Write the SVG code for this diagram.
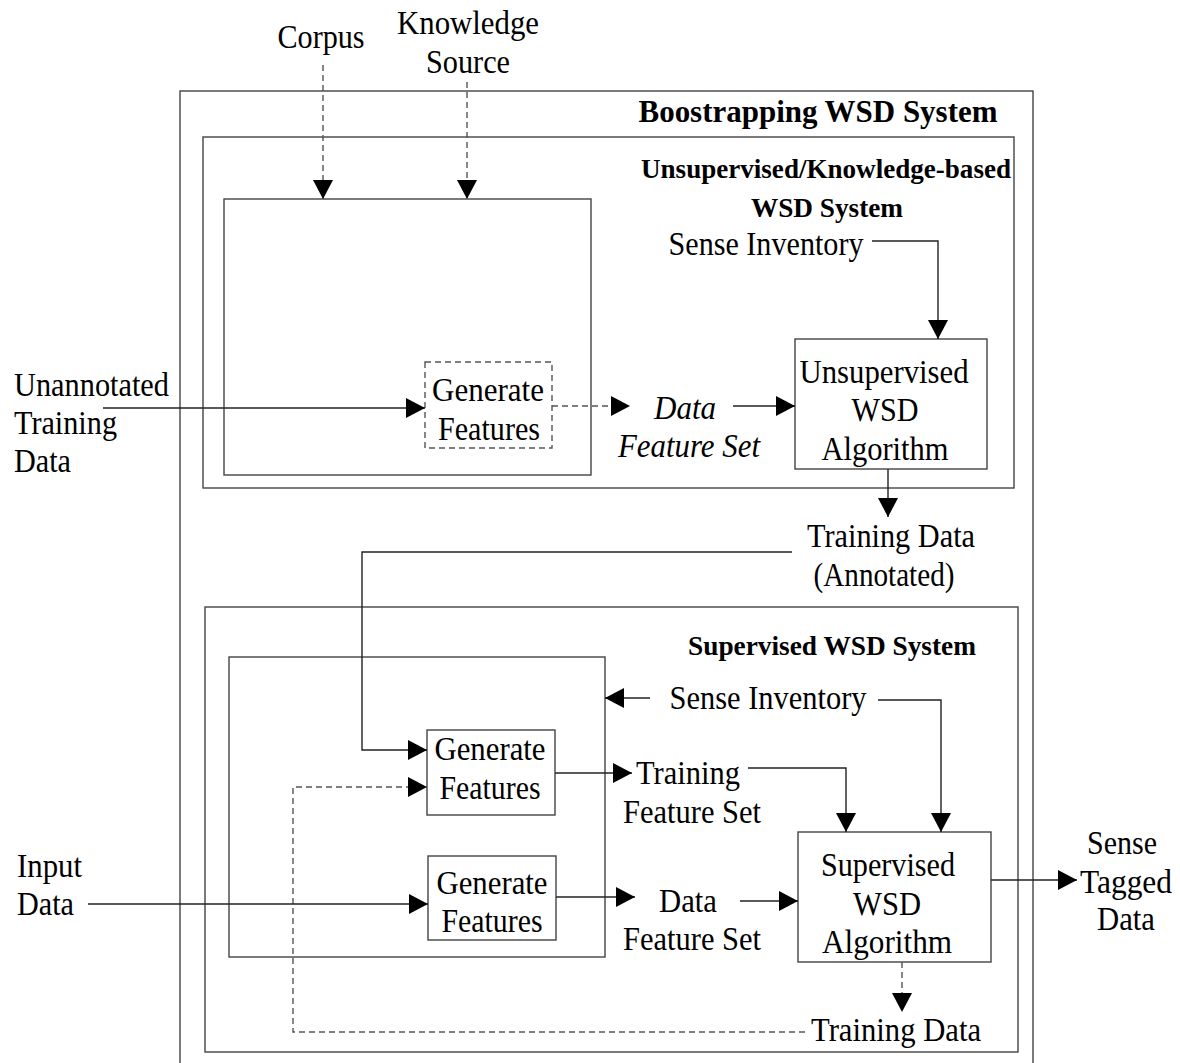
<svg xmlns="http://www.w3.org/2000/svg" width="1180" height="1063" viewBox="0 0 1180 1063">
  <style>
    .box { fill: none; stroke: #444; stroke-width: 1.4; }
    .dbox { fill: none; stroke: #555; stroke-width: 1.4; stroke-dasharray: 6 4; }
    .conn { fill: none; stroke: #222; stroke-width: 1.4; }
    .dash { stroke-dasharray: 6 4; stroke: #555; }
    text { font-family: "Liberation Serif", "Times New Roman", serif; font-size: 33px; fill: #000; }
    .c { text-anchor: middle; }
    .it { font-style: italic; }
    .title { font-weight: bold; font-size: 28px; text-anchor: middle; }
    .big { font-size: 31px; }
  </style>
  <defs>
    <marker id="arr" markerUnits="userSpaceOnUse" markerWidth="20" markerHeight="22" refX="19" refY="10" orient="auto">
      <path d="M0,0 L19,10 L0,20 z" fill="#000"/>
    </marker>
  </defs>

  <rect width="1180" height="1063" fill="#fff"/>

  <!-- containers -->
  <g id="bootstrapping-system">
    <rect class="box" x="180" y="91" width="853" height="990"/>
    <text class="title big" x="818" y="122" textLength="359" lengthAdjust="spacingAndGlyphs">Boostrapping WSD System</text>
  </g>
  <g id="unsupervised-system">
    <rect class="box" x="203" y="137" width="811" height="351"/>
    <text class="title" x="826" y="178" textLength="370" lengthAdjust="spacingAndGlyphs">Unsupervised/Knowledge-based</text>
    <text class="title" x="827" y="217" textLength="152" lengthAdjust="spacingAndGlyphs">WSD System</text>
  </g>
  <g id="unsupervised-inner">
    <rect class="box" x="224" y="199" width="367" height="276"/>
  </g>
  <g id="supervised-system">
    <rect class="box" x="205" y="607" width="813" height="445"/>
    <text class="title" x="832" y="655" textLength="288" lengthAdjust="spacingAndGlyphs">Supervised WSD System</text>
  </g>
  <g id="supervised-inner">
    <rect class="box" x="229" y="657" width="376" height="300"/>
  </g>

  <!-- inputs and labels -->
  <g id="corpus"><text class="c" x="321" y="48" textLength="87" lengthAdjust="spacingAndGlyphs">Corpus</text></g>
  <g id="knowledge-source">
    <text class="c" x="468" y="34" textLength="142" lengthAdjust="spacingAndGlyphs">Knowledge</text>
    <text class="c" x="468" y="73" textLength="84" lengthAdjust="spacingAndGlyphs">Source</text>
  </g>
  <g id="unannotated-data">
    <text x="14" y="396" textLength="155" lengthAdjust="spacingAndGlyphs">Unannotated</text>
    <text x="14" y="434" textLength="103" lengthAdjust="spacingAndGlyphs">Training</text>
    <text x="14" y="472" textLength="57" lengthAdjust="spacingAndGlyphs">Data</text>
  </g>
  <g id="sense-inventory-1"><text class="c" x="766" y="255" textLength="195" lengthAdjust="spacingAndGlyphs">Sense Inventory</text></g>
  <g id="generate-features-u">
    <rect class="dbox" x="425" y="362" width="127" height="86"/>
    <text class="c" x="488" y="401" textLength="112" lengthAdjust="spacingAndGlyphs">Generate</text>
    <text class="c" x="489" y="440" textLength="102" lengthAdjust="spacingAndGlyphs">Features</text>
  </g>
  <g id="data-feature-set-u">
    <text class="c it" x="685" y="419" textLength="62" lengthAdjust="spacingAndGlyphs">Data</text>
    <text class="c it" x="689" y="457" textLength="142" lengthAdjust="spacingAndGlyphs">Feature Set</text>
  </g>
  <g id="unsupervised-algorithm">
    <rect class="box" x="795" y="339" width="192" height="130"/>
    <text class="c" x="884" y="383" textLength="169" lengthAdjust="spacingAndGlyphs">Unsupervised</text>
    <text class="c" x="885" y="421" textLength="67" lengthAdjust="spacingAndGlyphs">WSD</text>
    <text class="c" x="885" y="460" textLength="127" lengthAdjust="spacingAndGlyphs">Algorithm</text>
  </g>
  <g id="training-data-annotated">
    <text class="c" x="891" y="547" textLength="168" lengthAdjust="spacingAndGlyphs">Training Data</text>
    <text class="c" x="884" y="586" textLength="141" lengthAdjust="spacingAndGlyphs">(Annotated)</text>
  </g>
  <g id="sense-inventory-2"><text class="c" x="768" y="709" textLength="197" lengthAdjust="spacingAndGlyphs">Sense Inventory</text></g>
  <g id="generate-features-train">
    <rect class="box" x="427" y="730" width="128" height="85"/>
    <text class="c" x="490" y="760" textLength="111" lengthAdjust="spacingAndGlyphs">Generate</text>
    <text class="c" x="490" y="799" textLength="101" lengthAdjust="spacingAndGlyphs">Features</text>
  </g>
  <g id="training-feature-set">
    <text x="636" y="784" textLength="104" lengthAdjust="spacingAndGlyphs">Training</text>
    <text class="c" x="692" y="823" textLength="138" lengthAdjust="spacingAndGlyphs">Feature Set</text>
  </g>
  <g id="input-data">
    <text x="17" y="877" textLength="65" lengthAdjust="spacingAndGlyphs">Input</text>
    <text x="17" y="915" textLength="57" lengthAdjust="spacingAndGlyphs">Data</text>
  </g>
  <g id="generate-features-input">
    <rect class="box" x="428" y="856" width="128" height="84"/>
    <text class="c" x="492" y="894" textLength="111" lengthAdjust="spacingAndGlyphs">Generate</text>
    <text class="c" x="492" y="932" textLength="101" lengthAdjust="spacingAndGlyphs">Features</text>
  </g>
  <g id="data-feature-set-s">
    <text class="c" x="688" y="912" textLength="58" lengthAdjust="spacingAndGlyphs">Data</text>
    <text class="c" x="692" y="950" textLength="138" lengthAdjust="spacingAndGlyphs">Feature Set</text>
  </g>
  <g id="supervised-algorithm">
    <rect class="box" x="798" y="832" width="193" height="130"/>
    <text class="c" x="888" y="876" textLength="134" lengthAdjust="spacingAndGlyphs">Supervised</text>
    <text class="c" x="887" y="915" textLength="68" lengthAdjust="spacingAndGlyphs">WSD</text>
    <text class="c" x="887" y="953" textLength="130" lengthAdjust="spacingAndGlyphs">Algorithm</text>
  </g>
  <g id="sense-tagged-data">
    <text class="c" x="1122" y="854" textLength="70" lengthAdjust="spacingAndGlyphs">Sense</text>
    <text class="c" x="1126" y="893" textLength="92" lengthAdjust="spacingAndGlyphs">Tagged</text>
    <text class="c" x="1126" y="930" textLength="58" lengthAdjust="spacingAndGlyphs">Data</text>
  </g>
  <g id="training-data-out"><text class="c" x="896" y="1041" textLength="170" lengthAdjust="spacingAndGlyphs">Training Data</text></g>

  <!-- connectors -->
  <g id="connectors">
    <path class="conn dash" d="M323,65 V199" marker-end="url(#arr)"/>
    <path class="conn dash" d="M467,82 V199" marker-end="url(#arr)"/>
    <path class="conn" d="M103,408 H425" marker-end="url(#arr)"/>
    <path class="conn dash" d="M552,406 H630" marker-end="url(#arr)"/>
    <path class="conn" d="M733,406 H795" marker-end="url(#arr)"/>
    <path class="conn" d="M872,241 H938 V339" marker-end="url(#arr)"/>
    <path class="conn" d="M888,469 V517" marker-end="url(#arr)"/>
    <path class="conn" d="M792,552 H362 V750 H427" marker-end="url(#arr)"/>
    <path class="conn" d="M650,698 H605" marker-end="url(#arr)"/>
    <path class="conn" d="M878,700 H941 V832" marker-end="url(#arr)"/>
    <path class="conn dash" d="M805,1032 H293 V787 H427" marker-end="url(#arr)"/>
    <path class="conn" d="M555,773 H632" marker-end="url(#arr)"/>
    <path class="conn" d="M748,768 H846 V832" marker-end="url(#arr)"/>
    <path class="conn" d="M88,904 H428" marker-end="url(#arr)"/>
    <path class="conn" d="M556,897 H635" marker-end="url(#arr)"/>
    <path class="conn" d="M740,901 H798" marker-end="url(#arr)"/>
    <path class="conn" d="M991,880 H1077" marker-end="url(#arr)"/>
    <path class="conn dash" d="M902,962 V1012" marker-end="url(#arr)"/>
  </g>
</svg>
